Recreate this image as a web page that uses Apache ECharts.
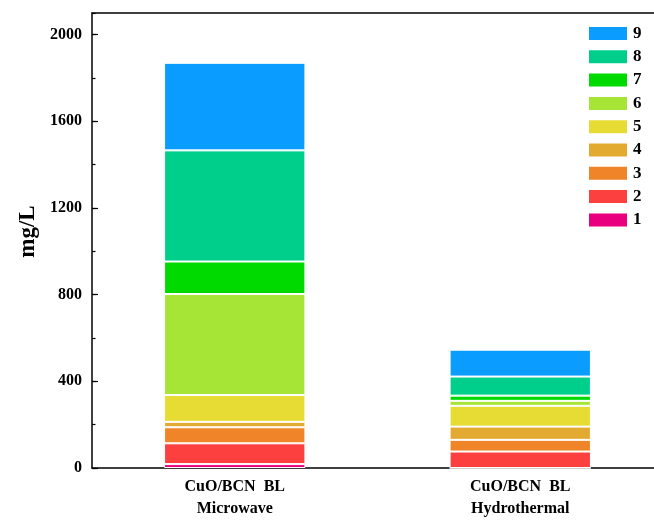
<!DOCTYPE html>
<html>
<head>
<meta charset="utf-8">
<script src="https://cdn.jsdelivr.net/npm/echarts@6/dist/echarts.min.js"></script>
<style>
  html, body { margin: 0; padding: 0; background: #fff; overflow: hidden; }
  /* the plot frame runs slightly past the right edge of the window */
  #chart { width: 663px; height: 520px; }
</style>
</head>
<body>
<div id="chart"></div>
<script>
// Samples on the category axis
const categories = ['CuO/BCN  BL\nMicrowave', 'CuO/BCN  BL\nHydrothermal'];

// Stacked components, bottom (1) to top (9), in mg/L
const comp1 = [18, 0];
const comp2 = [96, 76];
const comp3 = [74, 54];
const comp4 = [25, 61];
const comp5 = [124, 96];
const comp6 = [466, 23];
const comp7 = [150, 24];
const comp8 = [513, 88];
const comp9 = [404, 124];

const seriesNames = ['1', '2', '3', '4', '5', '6', '7', '8', '9'];
const seriesData = [comp1, comp2, comp3, comp4, comp5, comp6, comp7, comp8, comp9];
const seriesColors = ['#e8007f', '#fc3f3f', '#f08428', '#e3aa31', '#e6dc34',
                      '#a6e536', '#00da00', '#00cf8b', '#0a9cff'];

const FONT = '"Liberation Serif", "Times New Roman", serif';

const chart = echarts.init(document.getElementById('chart'), null, { renderer: 'canvas' });

const series = seriesNames.map((name, i) => ({
  name: name,
  type: 'bar',
  stack: 'total',
  barWidth: '49.5%',
  data: seriesData[i],
  itemStyle: { color: seriesColors[i], borderColor: '#ffffff', borderWidth: 1 },
  emphasis: { disabled: true }
}));

chart.setOption({
  animation: false,
  backgroundColor: '#ffffff',
  grid: { left: 92, right: 0, top: 13, bottom: 48, containLabel: false },
  legend: {
    orient: 'vertical',
    left: 587,
    top: 25,
    padding: 0,
    data: seriesNames.slice().reverse(),
    icon: 'rect',
    itemWidth: 40,
    itemHeight: 15,
    itemGap: 6.3,
    selectedMode: false,
    textStyle: { fontFamily: FONT, fontWeight: 'bold', fontSize: 17, color: '#000' }
  },
  xAxis: [
    {
      type: 'category',
      data: categories,
      position: 'bottom',
      axisLine: { onZero: false, lineStyle: { color: '#000', width: 1.5 } },
      axisTick: { show: false },
      axisLabel: {
        fontFamily: FONT, fontWeight: 'bold', fontSize: 16, color: '#000',
        lineHeight: 22, margin: 8
      },
      splitLine: { show: false }
    },
    {
      type: 'category',
      data: categories,
      position: 'top',
      axisLine: { show: true, onZero: false, lineStyle: { color: '#000', width: 1.5 } },
      axisTick: { show: false },
      axisLabel: { show: false },
      splitLine: { show: false }
    }
  ],
  yAxis: [
    {
      type: 'value',
      min: 0,
      max: 2100,
      interval: 400,
      name: 'mg/L',
      nameLocation: 'middle',
      nameGap: 46,
      nameRotate: 90,
      nameTextStyle: { fontFamily: FONT, fontWeight: 'bold', fontSize: 23, color: '#000', padding: [0, 0, 0, 18] },
      axisLine: { show: true, onZero: false, lineStyle: { color: '#000', width: 1.5 } },
      axisTick: { show: true, inside: true, length: 6, lineStyle: { color: '#000', width: 1.2 } },
      axisLabel: {
        fontFamily: FONT, fontWeight: 'bold', fontSize: 16, color: '#000', margin: 10,
        showMaxLabel: false,
        formatter: (v) => String(v)
      },
      splitLine: { show: false }
    },
    {
      // finer ticks every 200 mg/L
      type: 'value',
      min: 0,
      max: 2100,
      interval: 200,
      position: 'left',
      axisLine: { show: false, onZero: false },
      axisTick: { show: true, inside: true, length: 3.5, lineStyle: { color: '#000', width: 1.2 } },
      axisLabel: { show: false },
      splitLine: { show: false }
    }
  ],
  series: series
});
</script>
</body>
</html>
